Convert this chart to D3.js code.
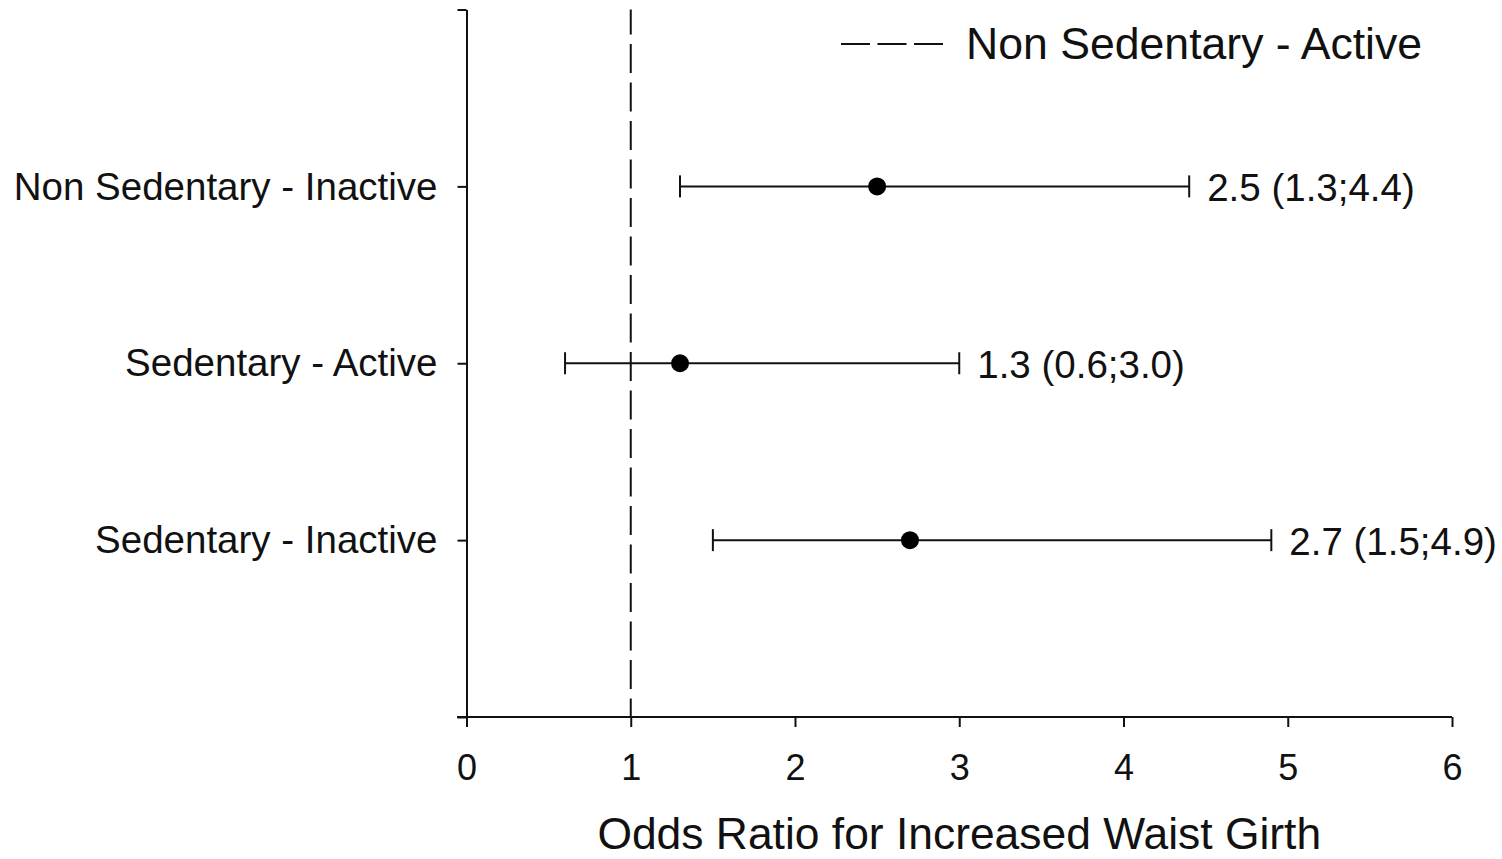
<!DOCTYPE html>
<html>
<head>
<meta charset="utf-8">
<script src="https://cdn.jsdelivr.net/npm/d3@7"></script>
<style>
  html, body { margin: 0; padding: 0; background: #fff; }
  svg { display: block; font-family: "Liberation Sans", Arial, sans-serif; }
</style>
</head>
<body>
<svg id="chart" width="1502" height="859"></svg>
<script>
// Groups compared against the reference group (Non Sedentary - Active, OR = 1)
const groups = ["Non Sedentary - Inactive", "Sedentary - Active", "Sedentary - Inactive"];
const oddsRatio = [2.5, 1.3, 2.7];
const ciLower = [1.3, 0.6, 1.5];
const ciUpper = [4.4, 3.0, 4.9];
const groupPos = [3, 2, 1];
const xTicks = [0, 1, 2, 3, 4, 5, 6];
const yTicks = [0, 1, 2, 3, 4];
const referenceValue = 1;
const referenceLabel = "Non Sedentary - Active";
const xTitle = "Odds Ratio for Increased Waist Girth";

const svg = d3.select("#chart");
const ink = "#111";
const fontStack = "'Liberation Sans', Arial, sans-serif";

const x = d3.scaleLinear().domain([0, 6]).range([466.5, 1452]);
const y = d3.scaleLinear().domain([0, 4]).range([717, 9.5]);

// Reference line at OR = 1
svg.append("line")
  .attr("x1", x(referenceValue)).attr("x2", x(referenceValue))
  .attr("y1", y(4)).attr("y2", y(0))
  .attr("stroke", ink).attr("stroke-width", 2)
  .attr("stroke-dasharray", "29,9.5")
  .attr("stroke-dashoffset", 4);

// X axis
const xAxis = svg.append("g")
  .attr("transform", `translate(0,${y(0)})`)
  .call(d3.axisBottom(x).tickValues(xTicks).tickSize(10).tickSizeOuter(0).tickPadding(27)
    .tickFormat(d3.format("d")));
xAxis.select(".domain").remove();
xAxis.append("line")
  .attr("x1", 457).attr("x2", x(6))
  .attr("stroke", ink).attr("stroke-width", 2);
xAxis.selectAll(".tick line").attr("stroke", ink).attr("stroke-width", 2);
xAxis.selectAll(".tick text")
  .attr("fill", ink)
  .style("font-size", "36px")
  .style("font-family", fontStack);

// Y axis
const yAxis = svg.append("g")
  .attr("transform", `translate(${x(0)},0)`)
  .call(d3.axisLeft(y).tickValues(yTicks).tickSize(9).tickSizeOuter(0).tickPadding(20)
    .tickFormat(d => { const i = groupPos.indexOf(d); return i >= 0 ? groups[i] : ""; }));
yAxis.select(".domain").attr("stroke", ink).attr("stroke-width", 2);
yAxis.selectAll(".tick line").attr("stroke", ink).attr("stroke-width", 2);
yAxis.selectAll(".tick text")
  .attr("fill", ink)
  .attr("dy", "0.33em")
  .style("font-size", "38.5px")
  .style("font-family", fontStack);

// Error bars, caps, point estimates and value labels
const rows = groups.map((g, i) => ({ g, or: oddsRatio[i], lo: ciLower[i], hi: ciUpper[i], pos: groupPos[i] }));
const capH = 11;

const marks = svg.append("g");
rows.forEach(r => {
  const cy = y(r.pos);
  marks.append("line")
    .attr("x1", x(r.lo)).attr("x2", x(r.hi)).attr("y1", cy).attr("y2", cy)
    .attr("stroke", ink).attr("stroke-width", 2);
  [r.lo, r.hi].forEach(v => {
    marks.append("line")
      .attr("x1", x(v)).attr("x2", x(v)).attr("y1", cy - capH).attr("y2", cy + capH)
      .attr("stroke", ink).attr("stroke-width", 2);
  });
  marks.append("circle")
    .attr("cx", x(r.or)).attr("cy", cy).attr("r", 9)
    .attr("fill", "#000");
  marks.append("text")
    .attr("x", x(r.hi) + 18).attr("y", cy + 15)
    .attr("fill", ink)
    .style("font-size", "38.5px")
    .text(`${r.or.toFixed(1)} (${r.lo.toFixed(1)};${r.hi.toFixed(1)})`);
});

// Legend
svg.append("line")
  .attr("x1", 841).attr("x2", 943).attr("y1", 44).attr("y2", 44)
  .attr("stroke", ink).attr("stroke-width", 2)
  .attr("stroke-dasharray", "29,7.5");
svg.append("text")
  .attr("x", 966).attr("y", 59)
  .attr("fill", ink)
  .style("font-size", "44.6px")
  .text(referenceLabel);

// X axis title
svg.append("text")
  .attr("x", (x(0) + x(6)) / 2).attr("y", 849)
  .attr("text-anchor", "middle")
  .attr("fill", ink)
  .style("font-size", "44.4px")
  .text(xTitle);
</script>
</body>
</html>
